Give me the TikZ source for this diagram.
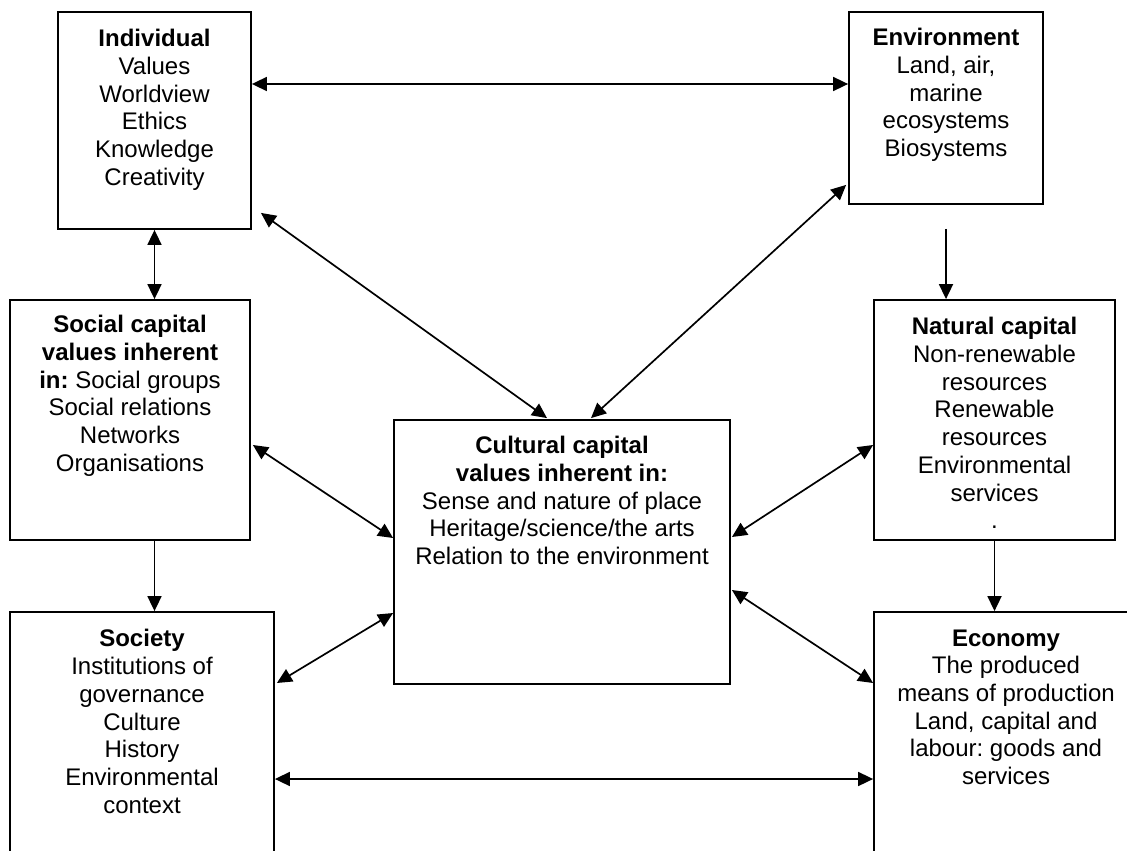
\documentclass[tikz,border=0pt]{standalone}
\usepackage{fontspec}
\setmainfont{Liberation Sans}
\usetikzlibrary{arrows.meta,positioning}
\frenchspacing

\begin{document}
\begin{tikzpicture}[
    x=0.5pt, y=-0.5pt,
    >={Triangle[length=7.5pt, width=7pt]},
    panel/.style={draw, line width=0.9pt, fill=white, inner sep=0pt},
    caption/.style={inner sep=0pt, align=center, font=\fontsize{12pt}{13.85pt}\selectfont},
    link/.style={line width=0.85pt}
  ]
    \path[use as bounding box, fill=white] (0,0) rectangle (1127,850);

    % boxes
    \node[panel, minimum width=96.5pt, minimum height=108.5pt] (ind) at (154.5,120.5) {};
    \node[panel, minimum width=97pt, minimum height=96pt] (env) at (946,108) {};
    \node[panel, minimum width=120pt, minimum height=120pt] (soc) at (130,420) {};
    \node[panel, minimum width=120.5pt, minimum height=120pt] (nat) at (994.5,420) {};
    \node[panel, minimum width=168pt, minimum height=132pt] (cul) at (562,552) {};
    \node[panel, minimum width=132pt, minimum height=140pt] (soty) at (142,752) {};
    \node[panel, minimum width=132pt, minimum height=140pt] (eco) at (1006,752) {};

    % texts
    \node[caption, below=9pt of ind.north] (indText) {\textbf{Individual}\\Values\\Worldview\\Ethics\\Knowledge\\Creativity};
    \node[caption, below=8.5pt of env.north] (envText) {\textbf{Environment}\\Land, air,\\marine\\ecosystems\\Biosystems};
    \node[caption, below=8pt of soc.north] (socText) {\textbf{Social capital}\\\textbf{values inherent}\\\textbf{in:} Social groups\\Social relations\\Networks\\Organisations};
    \node[caption, below=9pt of nat.north] (natText) {\textbf{Natural capital}\\Non-renewable\\resources\\Renewable\\resources\\Environmental\\services\\.};
    \node[caption, below=8.5pt of cul.north] (culText) {\textbf{Cultural capital}\\\textbf{values inherent in:}\\Sense and nature of place\\Heritage/science/the arts\\Relation to the environment};
    \node[caption, below=9pt of soty.north] (sotyText) {\textbf{Society}\\Institutions of\\governance\\Culture\\History\\Environmental\\context};
    \node[caption, below=9pt of eco.north] (ecoText) {\textbf{Economy}\\The produced\\means of production\\Land, capital and\\labour: goods and\\services};

    % links
    \draw[link, <->] ([shift={(0,-36.5)}]ind.east) -- ([shift={(0,-24)}]env.west);
    \draw[link, <->] (ind.south) -- (ind.south |- soc.north);
    \draw[link, <->] ([shift={(9,-17)}]ind.south east) -- ([shift={(-15,-1)}]cul.north);
    \draw[link, <->] ([shift={(-2,-20)}]env.south west) -- ([shift={(29,-1)}]cul.north);
    \draw[link, ->] ([shift={(0,24)}]env.south) -- (env.south |- nat.north);
    \draw[link, <->] ([shift={(2,25)}]soc.east) -- ([shift={(0,-14)}]cul.west);
    \draw[link, ->] (soc.south -| ind.south) -- (soty.north -| ind.south);
    \draw[link, <->] ([shift={(0,61)}]cul.west) -- ([shift={(2,-69)}]soty.east);
    \draw[link, <->] ([shift={(0,25)}]nat.west) -- ([shift={(1,-15)}]cul.east);
    \draw[link, <->] ([shift={(1,38)}]cul.east) -- ([shift={(0,-69)}]eco.west);
    \draw[link, ->] (nat.south) -- (nat.south |- eco.north);
    \draw[link, <->] ([shift={(0,27)}]soty.east) -- ([shift={(0,27)}]eco.west);
  \end{tikzpicture}
\end{document}
